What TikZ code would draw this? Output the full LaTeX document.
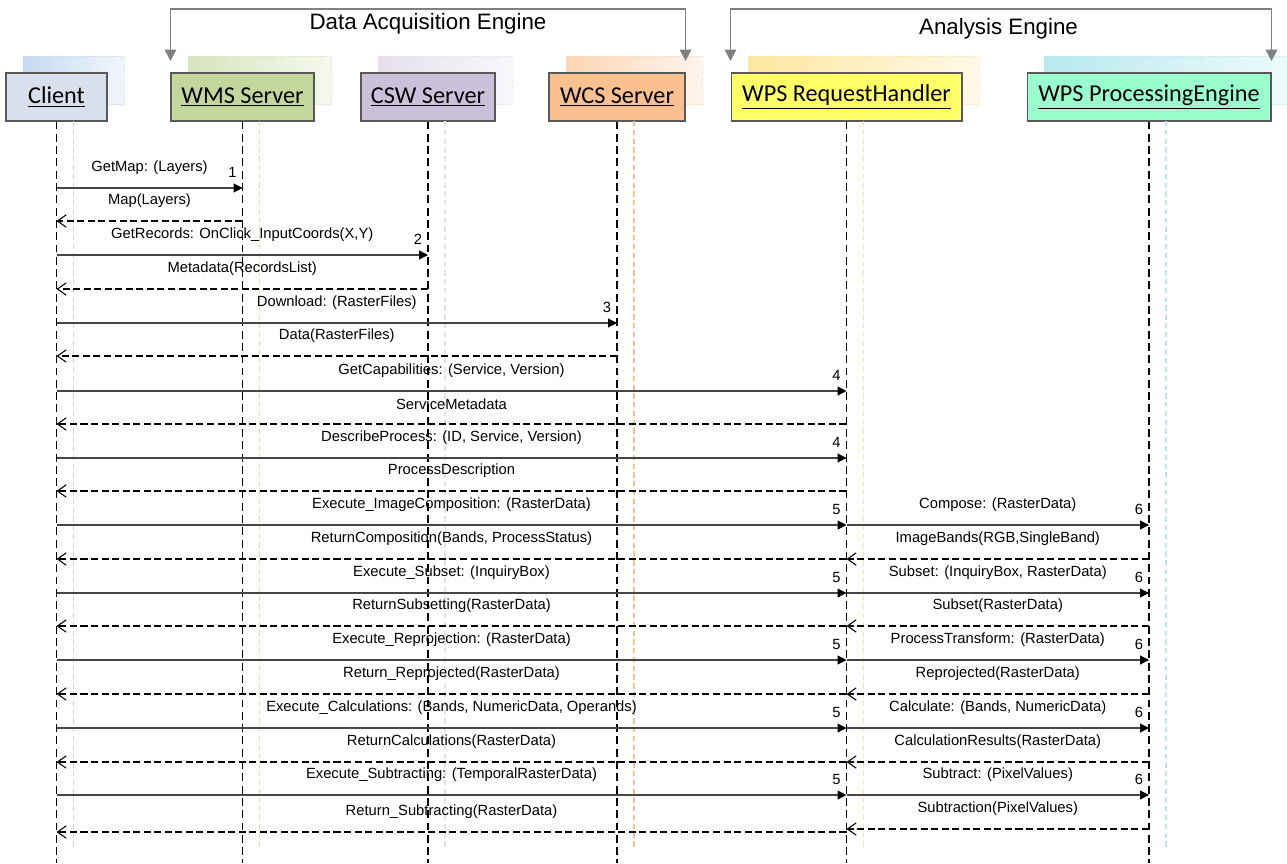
\documentclass[tikz,border=0pt]{standalone}
\usepackage{fontspec}
\setmainfont{Liberation Sans}
\newfontfamily\headfont{Carlito}
\usetikzlibrary{arrows.meta}

\definecolor{headline}{RGB}{89,89,89}
\definecolor{msgline}{RGB}{70,70,70}
\definecolor{clientfill}{RGB}{215,224,236}
\definecolor{clientshade}{RGB}{198,217,241}
\definecolor{wmsfill}{RGB}{195,214,155}
\definecolor{wmsshade}{RGB}{215,228,189}
\definecolor{cswfill}{RGB}{204,193,218}
\definecolor{cswshade}{RGB}{229,224,236}
\definecolor{wcsfill}{RGB}{250,192,144}
\definecolor{wcsshade}{RGB}{252,213,181}
\definecolor{rhfill}{RGB}{255,255,102}
\definecolor{rhshade}{RGB}{255,230,160}
\definecolor{pefill}{RGB}{153,255,204}
\definecolor{peshade}{RGB}{183,233,238}

\begin{document}
\begin{tikzpicture}[x=0.02cm, y=-0.02cm,
    head/.style = {draw=headline, line width=0.6pt, minimum height=0.96cm, inner sep=0pt,
                   font=\headfont\fontsize{13.8}{16}\selectfont},
    back/.style = {draw=#1, densely dotted, minimum height=0.96cm, inner sep=0pt,
                   left color=#1, right color=#1!25},
    lifeline/.style = {dash pattern=on 4.5pt off 2.5pt, line width=0.8pt},
    ghost/.style = {draw=#1, dash pattern=on 3pt off 2pt, line width=0.8pt},
    msg/.style = {draw=msgline, line width=0.6pt, -{Triangle[length=5pt,width=5pt,color=black]}},
    ret/.style = {dash pattern=on 4pt off 2pt, line width=0.6pt, -{Straight Barb[length=5pt,width=7pt]}},
    lbl/.style = {font=\fontsize{8.4}{10}\selectfont, inner sep=0pt, yshift=0.4cm},
    num/.style = {font=\fontsize{8.4}{10}\selectfont, inner sep=0pt, xshift=-0.2cm, yshift=0.32cm},
    bracket/.style = {draw=gray, line width=1.1pt,
                      {Triangle[length=6.5pt,width=6.5pt]}-{Triangle[length=6.5pt,width=6.5pt]}},
    engine/.style = {font=\fontsize{12.7}{15}\selectfont, inner sep=0pt}
  ]
  \useasboundingbox (0,0) rectangle (1287,863);

  % shadow boxes
  \node[back=clientshade, minimum width=2.02cm] (clientbk) at (73.5,80) {};
  \node[back=wmsshade, minimum width=2.86cm] (wmsbk) at (259.5,80) {};
  \node[back=cswshade, minimum width=2.68cm] (cswbk) at (445,80) {};
  \node[back=wcsshade, minimum width=2.72cm] (wcsbk) at (634,80) {};
  \node[back=rhshade, minimum width=4.62cm] (rhbk) at (863.5,80) {};
  \node[back=peshade, minimum width=4.88cm] (pebk) at (1166,80) {};

  % heads
  \node[head, fill=clientfill, minimum width=2.02cm] (client) at (56.5,97) {\underline{Client}};
  \node[head, fill=wmsfill, minimum width=2.86cm] (wms) at (242.5,97) {\underline{WMS Server}};
  \node[head, fill=cswfill, minimum width=2.68cm] (csw) at (428,97) {\underline{CSW Server}};
  \node[head, fill=wcsfill, minimum width=2.72cm] (wcs) at (617,97) {\underline{WCS Server}};
  \node[head, fill=rhfill, minimum width=4.62cm] (rh) at (846.5,97) {\underline{WPS RequestHandler}};
  \node[head, fill=pefill, minimum width=4.88cm] (pe) at (1149,97) {\underline{WPS ProcessingEngine}};

  % engines
  \draw[bracket] (wms.north west |- 0,61) |- (wcs.north east |- 0,9) -- (wcs.north east |- 0,61);
  \draw[bracket] (rh.north west |- 0,61) |- (pe.north east |- 0,9) -- (pe.north east |- 0,61);
  \node[engine] (acq) at (428,24) {Data Acquisition Engine};
  \node[engine] (ana) at (998.5,29) {Analysis Engine};

  % lifelines
  \foreach \p/\c in {clientbk/clientshade, wmsbk/wmsshade, cswbk/cswshade,
                     wcsbk/wcsfill, rhbk/rhshade, pebk/peshade}
    \draw[ghost=\c] (\p |- 0,121) -- (\p |- 0,848);
  \foreach \p in {client,wms,csw,wcs,rh,pe}
    \draw[lifeline] (\p.south) -- (\p |- 0,863);

  % requests from the client
  \foreach \y/\dst/\n/\txt in {
      188/wms/1/{GetMap: (Layers)},
      255/csw/2/{GetRecords: OnClick\_InputCoords(X,Y)},
      323/wcs/3/{Download: (RasterFiles)},
      391/rh/4/{GetCapabilities: (Service, Version)},
      458/rh/4/{DescribeProcess: (ID, Service, Version)},
      525/rh/5/{Execute\_ImageComposition: (RasterData)},
      593/rh/5/{Execute\_Subset: (InquiryBox)},
      660/rh/5/{Execute\_Reprojection: (RasterData)},
      728/rh/5/{Execute\_Calculations: (Bands, NumericData, Operands)},
      795/rh/5/{Execute\_Subtracting: (TemporalRasterData)}}
    \draw[msg] (client |- 0,\y) -- (\dst |- 0,\y)
      node[lbl, midway] {\txt} node[num, pos=1] {\n};

  % answers to the client
  \foreach \y/\src/\txt in {
      221/wms/{Map(Layers)},
      289/csw/{Metadata(RecordsList)},
      356/wcs/{Data(RasterFiles)},
      424/rh/{ServiceMetadata},
      491/rh/{ProcessDescription},
      559/rh/{ReturnComposition(Bands, ProcessStatus)},
      626/rh/{ReturnSubsetting(RasterData)},
      694/rh/{Return\_Reprojected(RasterData)},
      762/rh/{ReturnCalculations(RasterData)},
      832/rh/{Return\_Subtracting(RasterData)}}
    \draw[ret] (\src |- 0,\y) -- (client |- 0,\y) node[lbl, midway] {\txt};

  % handler to processing engine
  \foreach \y/\txt in {
      525/{Compose: (RasterData)},
      593/{Subset: (InquiryBox, RasterData)},
      660/{ProcessTransform: (RasterData)},
      728/{Calculate: (Bands, NumericData)},
      795/{Subtract: (PixelValues)}}
    \draw[msg] (rh |- 0,\y) -- (pe |- 0,\y)
      node[lbl, midway] {\txt} node[num, pos=1] {6};

  \foreach \y/\txt in {
      559/{ImageBands(RGB,SingleBand)},
      626/{Subset(RasterData)},
      694/{Reprojected(RasterData)},
      762/{CalculationResults(RasterData)},
      829/{Subtraction(PixelValues)}}
    \draw[ret] (pe |- 0,\y) -- (rh |- 0,\y) node[lbl, midway] {\txt};
\end{tikzpicture}
\end{document}
